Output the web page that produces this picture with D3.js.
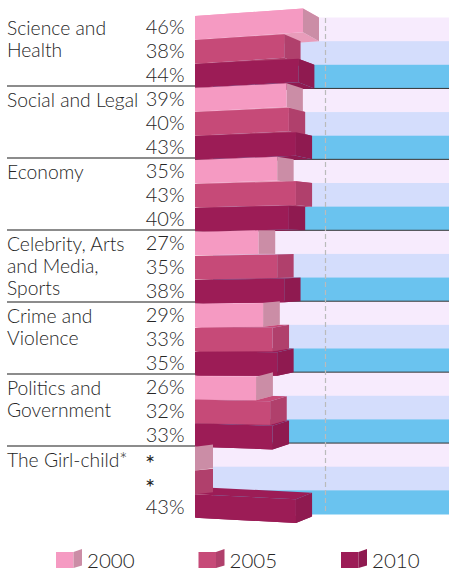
<!DOCTYPE html>
<html>
<head>
<meta charset="utf-8">
<script src="https://d3js.org/d3.v7.min.js"></script>
<style>
html, body { margin: 0; padding: 0; background: #fff; }
text { font-family: Lato, "Open Sans", sans-serif; font-weight: 300; fill: #262626; }
</style>
</head>
<body>
<div id="chart-area"></div>
<script>
var categories = [
    ["Science and", "Health"],
    ["Social and Legal"],
    ["Economy"],
    ["Celebrity, Arts", "and Media,", "Sports"],
    ["Crime and", "Violence"],
    ["Politics and", "Government"],
    ["The Girl-child*"]
];
var years = ["2000", "2005", "2010"];
var values2000 = [46, 39, 35, 27, 29, 26, null];
var values2005 = [38, 40, 43, 35, 33, 32, null];
var values2010 = [44, 43, 40, 38, 35, 33, 43];

var width = 449, height = 572;

var front = ["#f59ac2", "#c64a78", "#9c1c56"];
var side = ["#cb8da6", "#b0406c", "#8f1a50"];
var under = ["#e89cba", "#b0406c", "#8f1a50"];
var bands = ["#f7ebfd", "#d4ddfc", "#6ac3ef"];

var svg = d3.select("#chart-area")
    .append("svg")
        .attr("width", width)
        .attr("height", height)
        .style("display", "block");

// one row per year per category, top to bottom
var rows = [];
categories.forEach((c, g) => {
    [values2000, values2005, values2010].forEach((vals, s) => {
        rows.push({ group: g, series: s, value: vals[g], k: rows.length });
    });
});

var x = d3.scaleLinear().domain([0, 46]).range([195, 303]);
var y = d3.scaleBand().domain(d3.range(rows.length)).range([17.5, 514]);
var textY = d3.scaleLinear().domain([0, 20]).range([34, 513.5]);
var ruleY = d3.scaleLinear().domain([1, 6]).range([86, 446]);

// fake perspective: how far the bar ends slide up or down the page
var depth = d3.scaleLinear().domain([0, 46]).range([18, 16]);
var shiftLeft = d3.scaleLinear().domain([0, 15, 20]).range([-1.5, 3.8, 3.8]);
var shiftRight = d3.scaleLinear().domain([0, 1, 9, 11, 20]).range([-9, -7, 0, 1, 9]);
var shiftFar = d3.scaleLinear().domain([0, 15, 20]).range([0, 0, 2.5]).clamp(true);

var h = y.bandwidth();

function corners(d) {
    var v = d.value || 0;
    var xr = x(v), xf = xr + depth(v);
    var yl = y(d.k) + shiftLeft(d.k);
    var yr = d.value === null ? yl : y(d.k) + shiftRight(d.k);
    var yf = y(d.k) + shiftFar(d.k);
    return { x0: x(0), xr: xr, xf: xf, xb: x(0) + depth(v), yl: yl, yr: yr, yf: yf, yb: yf + (yl - yr) };
}

function pts(a) {
    return a.map(p => p.join(",")).join(" ");
}

// background stripes
svg.append("g").selectAll("rect")
    .data(rows)
    .enter().append("rect")
        .attr("x", x(0) + 18)
        .attr("y", d => y(d.k))
        .attr("width", width - x(0) - 18)
        .attr("height", h + 0.5)
        .attr("fill", d => bands[d.series]);

// dark lines under each group, right side
svg.append("g").selectAll("line")
    .data(d3.range(1, 7))
    .enter().append("line")
        .attr("x1", x(0))
        .attr("x2", width)
        .attr("y1", d => y(d * 3 - 1) + h)
        .attr("y2", d => y(d * 3 - 1) + h)
        .attr("stroke", "#333")
        .attr("stroke-width", 1);

// dashed reference line
svg.append("line")
    .attr("x1", 325.5)
    .attr("x2", 325.5)
    .attr("y1", 18)
    .attr("y2", 514)
    .attr("stroke", "#bbb")
    .attr("stroke-width", 1.2)
    .attr("stroke-dasharray", "5,3");

// rules on the left, under the labels
svg.append("g").selectAll("line")
    .data(d3.range(1, 7))
    .enter().append("line")
        .attr("x1", 7)
        .attr("x2", x(0))
        .attr("y1", d => ruleY(d))
        .attr("y2", d => ruleY(d))
        .attr("stroke", "#666")
        .attr("stroke-width", 1.5);

// top faces go in first so the bars above can hide them
svg.append("g").selectAll("polygon")
    .data(rows.filter(d => d.value !== null))
    .enter().append("polygon")
        .attr("fill", d => front[d.series])
        .attr("points", d => {
            var c = corners(d);
            return pts([[c.x0, c.yl], [c.xr, c.yr], [c.xf, c.yf], [c.xb, c.yb]]);
        });

// bars, drawn top down so each one sits over the underside of the one before
var bar = svg.append("g").selectAll("g")
    .data(rows)
    .enter().append("g");

bar.filter(d => d.value !== null).append("polygon")
    .attr("fill", d => under[d.series])
    .attr("points", d => {
        var c = corners(d);
        return pts([[c.x0, c.yl + h], [c.xr, c.yr + h], [c.xf, c.yf + h], [c.xb, c.yb + h]]);
    });

bar.append("polygon")
    .attr("fill", d => side[d.series])
    .attr("points", d => {
        var c = corners(d);
        return pts([[c.xr, c.yr], [c.xf, c.yf], [c.xf, c.yf + h], [c.xr, c.yr + h]]);
    });

bar.filter(d => d.value !== null).append("polygon")
    .attr("fill", d => front[d.series])
    .attr("points", d => {
        var c = corners(d);
        return pts([[c.x0, c.yl], [c.xr, c.yr], [c.xr, c.yr + h], [c.x0, c.yl + h]]);
    });

// value labels, the missing years get a bigger star
svg.append("g").selectAll("text")
    .data(rows)
    .enter().append("text")
        .attr("x", d => d.value === null ? 150 : 184.5)
        .attr("y", d => d.value === null ? textY(d.k) + 6 : textY(d.k))
        .attr("text-anchor", d => d.value === null ? "middle" : "end")
        .attr("font-size", d => d.value === null ? "24px" : "20px")
        .style("font-weight", d => d.value === null ? 400 : 300)
        .text(d => d.value === null ? "*" : d.value + "%");

// category labels
categories.forEach((lines, g) => {
    svg.append("text")
        .attr("y", textY(g * 3) + 1)
        .attr("font-size", "19.3px")
        .selectAll("tspan")
        .data(lines)
        .enter().append("tspan")
            .attr("x", 7)
            .attr("y", (d, i) => textY(g * 3) + 1 + i * 22)
            .text(d => d);
});

// legend
var legendX = d3.scalePoint().domain(years).range([56, 341]);

var legend = svg.append("g").selectAll("g")
    .data(years)
    .enter().append("g")
        .attr("transform", d => "translate(" + legendX(d) + ",552)");

legend.append("rect")
    .attr("width", 17.5)
    .attr("height", 16)
    .attr("fill", (d, i) => front[i]);

legend.append("polygon")
    .attr("points", "17.5,0 26,-3 26,13.5 17.5,16")
    .attr("fill", (d, i) => side[i]);

legend.append("text")
    .attr("x", 31)
    .attr("y", 16)
    .attr("font-size", "20.5px")
    .text(d => d);
</script>
</body>
</html>
